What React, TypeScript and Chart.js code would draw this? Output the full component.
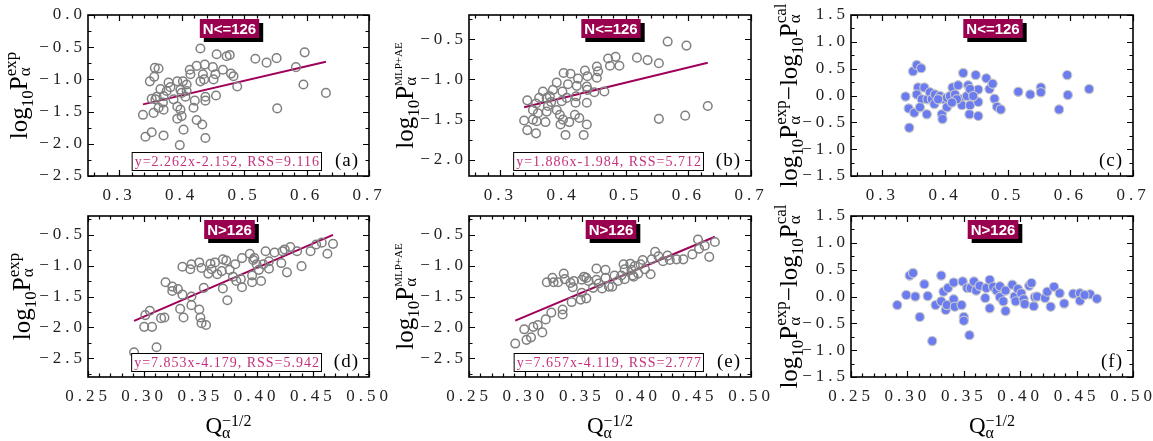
import React, { useEffect, useRef } from "react";
import { Chart, registerables } from "chart.js";
Chart.register(...registerables);

// ---------------- DATA ----------------
// (a) N<=126 : experimental
const aX = [0.430,0.456,0.472,0.477,0.518,0.536,0.552,0.597,0.583,0.595,0.631,0.553,0.489,0.483,0.479,0.466,0.454,0.451,0.455,0.437,0.424,0.450,0.434,0.436,0.430,0.414,0.413,0.438,0.438,0.421,0.419,0.424,0.433,0.438,0.403,0.397,0.400,0.393,0.406,0.408,0.408,0.402,0.393,0.398,0.400,0.393,0.398,0.387,0.382,0.379,0.376,0.371,0.370,0.366,0.360,0.358,0.363,0.371,0.357,0.363,0.356,0.349,0.355,0.338,0.342,0.352,0.371,0.352];
const aY = [-0.52,-0.61,-0.64,-0.62,-0.68,-0.74,-0.67,-0.58,-0.81,-1.08,-1.21,-1.45,-1.11,-0.95,-0.91,-0.85,-0.92,-1.00,-1.25,-0.77,-0.79,-0.81,-0.92,-1.00,-1.03,-0.92,-0.85,-1.27,-1.33,-1.33,-1.44,-1.63,-1.70,-1.91,-1.78,-2.02,-1.57,-1.61,-1.27,-1.18,-1.08,-1.03,-1.03,-1.16,-1.21,-1.42,-1.47,-1.31,-1.12,-1.05,-1.18,-1.26,-1.36,-1.15,-1.27,-1.31,-1.44,-1.47,-0.82,-0.83,-0.96,-1.03,-1.52,-1.55,-1.89,-1.82,-1.87,-1.30];
// (b) N<=126 : MLP+AE
const bX = [0.567,0.597,0.518,0.535,0.553,0.472,0.484,0.475,0.490,0.454,0.456,0.435,0.439,0.454,0.438,0.439,0.450,0.466,0.438,0.438,0.433,0.426,0.419,0.420,0.421,0.422,0.424,0.412,0.401,0.408,0.406,0.399,0.390,0.398,0.395,0.400,0.396,0.404,0.410,0.384,0.379,0.381,0.376,0.374,0.390,0.368,0.362,0.357,0.352,0.360,0.343,0.358,0.352,0.338,0.343,0.357,0.372,0.553,0.595,0.631,0.374];
const bY = [-0.53,-0.58,-0.73,-0.76,-0.80,-0.74,-0.72,-0.83,-0.83,-0.84,-0.90,-0.89,-0.96,-0.98,-1.09,-1.13,-1.16,-1.15,-1.29,-1.56,-1.69,-1.48,-1.44,-1.29,-1.21,-1.08,-0.99,-0.93,-0.92,-1.06,-1.23,-1.15,-1.04,-1.27,-1.44,-1.50,-1.56,-1.69,-1.53,-1.13,-1.21,-1.28,-1.33,-1.40,-1.38,-1.15,-1.23,-1.30,-1.38,-1.42,-1.26,-1.52,-1.50,-1.51,-1.63,-1.67,-1.53,-1.49,-1.45,-1.33,-1.23];
// (c) N<=126 : residuals
const cX = [0.337,0.342,0.343,0.351,0.349,0.355,0.362,0.357,0.355,0.363,0.360,0.367,0.371,0.372,0.376,0.379,0.383,0.384,0.392,0.395,0.396,0.398,0.403,0.403,0.408,0.412,0.421,0.424,0.429,0.427,0.435,0.437,0.439,0.440,0.449,0.453,0.453,0.453,0.466,0.471,0.476,0.479,0.483,0.489,0.517,0.536,0.553,0.553,0.582,0.595,0.596,0.630,0.416,0.389,0.419,0.411,0.440,0.445];
const cY = [-0.02,-0.24,-0.60,-0.32,0.45,0.57,0.51,0.15,0.02,-0.07,-0.22,0.15,-0.35,-0.07,0.06,-0.07,-0.16,0.02,-0.01,-0.35,-0.44,-0.07,-0.04,-0.22,-0.01,0.15,0.19,-0.07,0.42,-0.18,-0.01,0.19,-0.35,-0.18,0.38,0.11,-0.12,-0.38,0.32,0.12,0.22,-0.06,-0.21,-0.26,0.07,0.02,0.15,0.06,-0.26,0.38,0.01,0.12,0.02,-0.07,-0.07,-0.13,0.12,-0.01];
// (d) N>126 : experimental
const dX = [0.291,0.300,0.301,0.305,0.307,0.311,0.315,0.318,0.319,0.325,0.325,0.330,0.334,0.332,0.335,0.334,0.341,0.342,0.342,0.342,0.349,0.351,0.349,0.350,0.351,0.355,0.353,0.357,0.359,0.360,0.363,0.365,0.369,0.370,0.370,0.373,0.374,0.376,0.379,0.381,0.382,0.387,0.386,0.387,0.394,0.396,0.396,0.398,0.400,0.402,0.404,0.406,0.408,0.411,0.411,0.416,0.422,0.423,0.427,0.430,0.436,0.440,0.448,0.453,0.458,0.463,0.468,0.425,0.397];
const dY = [-2.40,-1.99,-1.80,-1.73,-1.99,-2.32,-1.85,-1.84,-1.27,-1.34,-1.41,-1.38,-1.02,-1.70,-1.84,-1.47,-1.06,-0.98,-1.64,-1.50,-0.95,-1.04,-1.71,-1.84,-1.93,-1.96,-1.36,-1.13,-0.97,-1.06,-0.95,-1.14,-1.09,-1.37,-0.90,-0.92,-1.56,-1.07,-1.18,-0.98,-1.25,-0.88,-1.22,-1.35,-0.81,-1.16,-1.27,-0.88,-0.98,-1.07,-1.25,-0.98,-0.77,-0.93,-1.05,-0.79,-0.96,-0.77,-1.11,-0.70,-0.77,-1.01,-0.77,-0.66,-0.63,-0.81,-0.65,-0.74,-0.91];
// (e) N>126 : MLP+AE
const eX = [0.291,0.299,0.301,0.305,0.307,0.311,0.315,0.318,0.319,0.323,0.324,0.325,0.329,0.333,0.333,0.334,0.335,0.340,0.342,0.341,0.343,0.349,0.350,0.350,0.352,0.354,0.356,0.360,0.363,0.363,0.365,0.368,0.371,0.371,0.374,0.377,0.379,0.382,0.385,0.387,0.388,0.393,0.394,0.396,0.397,0.400,0.402,0.404,0.406,0.411,0.412,0.415,0.418,0.422,0.426,0.428,0.434,0.440,0.448,0.453,0.454,0.459,0.463,0.468,0.354,0.388,0.395];
const eY = [-2.26,-2.03,-2.20,-2.16,-1.99,-1.96,-2.08,-1.87,-1.27,-1.76,-1.20,-1.27,-1.27,-1.79,-1.71,-1.13,-1.22,-1.28,-1.35,-1.59,-1.25,-1.55,-1.44,-1.23,-1.18,-1.53,-1.25,-1.36,-1.05,-1.23,-1.29,-1.37,-1.07,-1.20,-1.34,-1.34,-1.16,-1.25,-1.16,-0.98,-1.06,-0.97,-1.07,-1.18,-1.01,-1.13,-0.98,-0.91,-1.06,-1.14,-0.90,-0.78,-0.85,-0.93,-0.84,-0.91,-0.90,-0.90,-0.82,-0.58,-0.73,-0.68,-0.86,-0.62,-1.20,-1.22,-1.16];
// (f) N>126 : residuals
const fX = [0.291,0.299,0.302,0.305,0.307,0.311,0.315,0.318,0.322,0.325,0.330,0.330,0.332,0.334,0.335,0.336,0.341,0.342,0.341,0.348,0.349,0.350,0.350,0.355,0.353,0.356,0.359,0.361,0.364,0.369,0.370,0.373,0.373,0.376,0.379,0.382,0.382,0.385,0.387,0.387,0.393,0.395,0.396,0.398,0.401,0.403,0.404,0.408,0.410,0.412,0.413,0.415,0.422,0.424,0.427,0.430,0.435,0.439,0.447,0.453,0.453,0.462,0.468,0.457];
const fY = [-0.16,0.03,0.39,0.44,0.00,-0.38,0.23,0.01,-0.83,-0.16,0.39,-0.09,0.09,-0.25,-0.16,0.16,-0.05,-0.19,0.26,-0.16,0.28,-0.38,-0.45,-0.72,0.16,0.16,0.28,0.11,0.20,-0.03,0.16,0.31,-0.22,0.18,0.11,-0.01,0.19,-0.09,0.11,-0.27,0.22,0.00,-0.09,0.14,0.06,-0.05,-0.14,0.20,0.25,-0.18,-0.01,0.00,-0.03,0.09,-0.19,0.18,0.06,-0.13,0.05,0.06,-0.08,0.04,-0.04,0.03];

// linear fits: [slope, intercept, RSS], x-extent
const fitA = [2.262, -2.152, 9.116];
const fitB = [1.886, -1.984, 5.712];
const fitD = [7.853, -4.179, 5.942];
const fitE = [7.657, -4.119, 2.777];
const fitTopRange = [0.338, 0.631];
const fitBotRange = [0.291, 0.468];

// tick labels
const topXTicks = [0.3, 0.4, 0.5, 0.6, 0.7];
const botXTicks = [0.25, 0.30, 0.35, 0.40, 0.45, 0.50];
const yTicksA = [0.0, -0.5, -1.0, -1.5, -2.0, -2.5];
const yTicksB = [-0.5, -1.0, -1.5, -2.0];
const yTicksLow = [-0.5, -1.0, -1.5, -2.0, -2.5];
const yTicksRes = [1.5, 1.0, 0.5, 0.0, -0.5, -1.0, -1.5];

const badgeTop = "N<=126";
const badgeBot = "N>126";

// ---------------- STYLE ----------------
const SERIF = '"Liberation Serif", "Times New Roman", serif';
const LINE_COLOR = "#a0005a";
const BADGE_COLOR = "#990050";
const EQ_COLOR = "#c4307e";
const OPEN_EDGE = "#7f7f7f";
const BLUE = "#6a7cf0";
const BLUE_EDGE = "#c8c8c8";

type Run = { t?: string; s?: "sub"; sup?: string; sub?: string };
const expTitle: Run[] = [{ t: "log" }, { t: "10", s: "sub" }, { t: "P" }, { sup: "exp", sub: "α" }];
const mlpTitle: Run[] = [{ t: "log" }, { t: "10", s: "sub" }, { t: "P" }, { sup: "MLP+AE", sub: "α" }];
const resTitle: Run[] = [
  { t: "log" }, { t: "10", s: "sub" }, { t: "P" }, { sup: "exp", sub: "α" }, { t: "−" },
  { t: "log" }, { t: "10", s: "sub" }, { t: "P" }, { sup: "cal", sub: "α" },
];
const xTitle: Run[] = [{ t: "Q" }, { sup: "−1/2", sub: "α" }];

function drawRich(ctx: any, runs: Run[], size: number, small: number, supSmall: number, cx: number, cy: number, rotated: boolean, supShift: number, subShift: number, stackSub: number) {
  ctx.save();
  ctx.translate(cx, cy);
  if (rotated) ctx.rotate(-Math.PI / 2);
  ctx.letterSpacing = "0px";
  const big = `${size}px ${SERIF}`;
  const sm = `${small}px ${SERIF}`;
  const ssm = `${supSmall}px ${SERIF}`;
  const widths = runs.map((r) => {
    if (r.sup !== undefined) {
      ctx.font = ssm;
      const w1 = ctx.measureText(r.sup).width;
      ctx.font = sm;
      const w2 = ctx.measureText(r.sub).width;
      return Math.max(w1, w2);
    }
    ctx.font = r.s ? sm : big;
    return ctx.measureText(r.t).width;
  });
  const total = widths.reduce((p, q) => p + q, 0);
  let x = -total / 2;
  ctx.fillStyle = "#000";
  ctx.textAlign = "left";
  ctx.textBaseline = "alphabetic";
  runs.forEach((r, i) => {
    if (r.sup !== undefined) {
      ctx.font = ssm;
      ctx.fillText(r.sup, x, supShift);
      ctx.font = sm;
      ctx.fillText(r.sub, x, stackSub);
    } else if (r.s === "sub") {
      ctx.font = sm;
      ctx.fillText(r.t, x, subShift);
    } else {
      ctx.font = big;
      ctx.fillText(r.t, x, 0);
    }
    x += widths[i];
  });
  ctx.restore();
}

function minorVals(min: number, max: number, step: number) {
  const out: number[] = [];
  const k0 = Math.ceil(min / step - 1e-6);
  const k1 = Math.floor(max / step + 1e-6);
  for (let k = k0; k <= k1; k++) out.push(+(k * step).toFixed(6));
  return out;
}

const fmtY = (v: number) => (v < 0 ? "−" + Math.abs(v).toFixed(1) : v.toFixed(1));

type PanelCfg = {
  xs: number[]; ys: number[]; fit?: number[]; fitRange: number[];
  filled: boolean; xMin: number; xMax: number; yMin: number; yMax: number;
  xTicks: number[]; yTicks: number[]; xDec: number; xMinor: number; xMajor: number; yMinor: number;
  badge: string; tag: string; title: Run[]; supSmall: number; showX: boolean;
  PL: number; PR: number; PT: number; PB: number; top: number; h: number; titleOff: number;
};

const COLS = [{ PL: 88, PR: 369 }, { PL: 469, PR: 751 }, { PL: 851, PR: 1133 }];
const ROWS = [{ PT: 15, PB: 176, top: 0, h: 200 }, { PT: 216, PB: 377, top: 200, h: 241 }];

const topCommon = { xMin: 0.25, xMax: 0.7, xTicks: topXTicks, xDec: 1, xMinor: 0.02, xMajor: 0.1, yMinor: 0.25, badge: badgeTop, fitRange: fitTopRange, showX: false, ...ROWS[0] };
const botCommon = { xMin: 0.25, xMax: 0.5, xTicks: botXTicks, xDec: 2, xMinor: 0.01, xMajor: 0.05, yMinor: 0.25, badge: badgeBot, fitRange: fitBotRange, showX: true, ...ROWS[1] };

const PANELS: PanelCfg[] = [
  { ...topCommon, ...COLS[0], xs: aX, ys: aY, fit: fitA, filled: false, yMin: -2.5, yMax: 0, yTicks: yTicksA, tag: "(a)", title: expTitle, supSmall: 17, titleOff: 61 },
  { ...topCommon, ...COLS[1], xs: bX, ys: bY, fit: fitB, filled: false, yMin: -2.2, yMax: -0.2, yTicks: yTicksB, tag: "(b)", title: mlpTitle, supSmall: 11, titleOff: 56 },
  { ...topCommon, ...COLS[2], xs: cX, ys: cY, filled: true, yMin: -1.5, yMax: 1.5, yTicks: yTicksRes, tag: "(c)", title: resTitle, supSmall: 17, titleOff: 54 },
  { ...botCommon, ...COLS[0], xs: dX, ys: dY, fit: fitD, filled: false, yMin: -2.8, yMax: -0.2, yTicks: yTicksLow, tag: "(d)", title: expTitle, supSmall: 17, titleOff: 58 },
  { ...botCommon, ...COLS[1], xs: eX, ys: eY, fit: fitE, filled: false, yMin: -2.8, yMax: -0.2, yTicks: yTicksLow, tag: "(e)", title: mlpTitle, supSmall: 11, titleOff: 56 },
  { ...botCommon, ...COLS[2], xs: fX, ys: fY, filled: true, yMin: -1.5, yMax: 1.5, yTicks: yTicksRes, tag: "(f)", title: resTitle, supSmall: 17, titleOff: 54 },
];

function Panel({ cfg }: { cfg: PanelCfg }) {
  const ref = useRef<HTMLCanvasElement>(null);
  const AXW = 88;
  const RPAD = 30;
  const left = cfg.PL - AXW;
  const width = cfg.PR - cfg.PL + AXW + RPAD;

  useEffect(() => {
    const pts = cfg.xs.map((x, i) => ({ x, y: cfg.ys[i] }));
    const datasets: any[] = [
      {
        type: "scatter",
        data: pts,
        pointRadius: cfg.filled ? 4.6 : 4.3,
        pointBorderWidth: cfg.filled ? 1.2 : 1.5,
        pointBorderColor: cfg.filled ? BLUE_EDGE : OPEN_EDGE,
        pointBackgroundColor: cfg.filled ? BLUE : "rgba(0,0,0,0)",
        pointHoverRadius: 4,
      },
    ];
    if (cfg.fit) {
      const [m, b] = cfg.fit;
      datasets.push({
        type: "line",
        data: cfg.fitRange.map((x) => ({ x, y: m * x + b })),
        borderColor: LINE_COLOR,
        borderWidth: 2,
        pointRadius: 0,
        showLine: true,
        fill: false,
      });
    }

    const decor = {
      id: "decor",
      beforeDraw(chart: any) {
        chart.ctx.letterSpacing = "4px";
      },
      afterDatasetsDraw(chart: any) {
        const ctx = chart.ctx;
        const { left: L, right: R, top: T, bottom: B } = chart.chartArea;
        const sx = chart.scales.x;
        const sy = chart.scales.y;
        ctx.save();
        ctx.letterSpacing = "0px";
        // ticks (inward, mirrored)
        ctx.strokeStyle = "#000";
        ctx.lineWidth = 1.2;
        ctx.beginPath();
        minorVals(cfg.xMin, cfg.xMax, cfg.xMinor).forEach((v) => {
          const isMaj = Math.abs(v / cfg.xMajor - Math.round(v / cfg.xMajor)) < 1e-4;
          const len = isMaj ? 6 : 3.5;
          const px = Math.round(sx.getPixelForValue(v)) + 0.5;
          ctx.moveTo(px, B); ctx.lineTo(px, B - len);
          ctx.moveTo(px, T); ctx.lineTo(px, T + len);
        });
        minorVals(cfg.yMin, cfg.yMax, cfg.yMinor).forEach((v) => {
          const isMaj = Math.abs(v / 0.5 - Math.round(v / 0.5)) < 1e-4;
          const len = isMaj ? 6 : 3.5;
          const py = Math.round(sy.getPixelForValue(v)) + 0.5;
          ctx.moveTo(L, py); ctx.lineTo(L + len, py);
          ctx.moveTo(R, py); ctx.lineTo(R - len, py);
        });
        ctx.stroke();
        // frame
        ctx.lineWidth = 1.6;
        ctx.strokeRect(L, T, R - L, B - T);

        // equation box
        if (cfg.fit) {
          const [m, b, rss] = cfg.fit;
          const txt = `y=${m.toFixed(3)}x-${Math.abs(b).toFixed(3)}, RSS=${rss.toFixed(3)}`;
          ctx.font = `14px ${SERIF}`;
          ctx.letterSpacing = "1px";
          const tw = ctx.measureText(txt).width;
          const bw = tw + 5;
          const bh = 19;
          const bx = R - 47 - bw;
          const by = B - 5 - bh;
          ctx.fillStyle = "#fff";
          ctx.fillRect(bx, by, bw, bh);
          ctx.lineWidth = 1;
          ctx.strokeStyle = "#000";
          ctx.strokeRect(bx + 0.5, by + 0.5, bw - 1, bh - 1);
          ctx.fillStyle = EQ_COLOR;
          ctx.textAlign = "left";
          ctx.textBaseline = "middle";
          ctx.fillText(txt, bx + 3, by + bh / 2 + 1);
        }
        // panel tag
        ctx.letterSpacing = "1px";
        ctx.font = `19px ${SERIF}`;
        ctx.fillStyle = "#000";
        ctx.textAlign = "right";
        ctx.textBaseline = "middle";
        ctx.fillText(cfg.tag, R - 10, B - 15);

        // badge
        ctx.letterSpacing = "0px";
        ctx.font = `bold 15px "Liberation Sans", Arial, sans-serif`;
        const bwid = ctx.measureText(cfg.badge).width + 6;
        const bh2 = 19;
        const bcx = (L + R) / 2 + 1;
        const btop = T + 4;
        ctx.fillStyle = "#000";
        ctx.fillRect(bcx - bwid / 2 + 4, btop + 4, bwid, bh2);
        ctx.fillStyle = BADGE_COLOR;
        ctx.fillRect(bcx - bwid / 2, btop, bwid, bh2);
        ctx.fillStyle = "#fff";
        ctx.textAlign = "center";
        ctx.textBaseline = "middle";
        ctx.fillText(cfg.badge, bcx, btop + bh2 / 2 + 1);

        // y title
        drawRich(ctx, cfg.title, 25, 17, cfg.supSmall, L - cfg.titleOff, (T + B) / 2, true, -11, 6, 3);
        // x title
        if (cfg.showX) {
          drawRich(ctx, xTitle, 23, 16, 16, (L + R) / 2, B + 56, false, -7, 5, 5);
        }
        ctx.restore();
      },
      afterDraw(chart: any) {
        chart.ctx.letterSpacing = "0px";
      },
    };

    const chart = new Chart(ref.current as HTMLCanvasElement, {
      type: "scatter",
      data: { datasets },
      options: {
        responsive: false,
        animation: false,
        events: [],
        layout: { padding: { left: 0, right: RPAD, top: cfg.PT - cfg.top, bottom: 0 } },
        plugins: { legend: { display: false }, tooltip: { enabled: false } },
        scales: {
          x: {
            type: "linear",
            position: "bottom",
            min: cfg.xMin,
            max: cfg.xMax,
            afterBuildTicks: (s: any) => {
              s.ticks = cfg.xTicks.map((v) => ({ value: v }));
            },
            afterFit: (s: any) => {
              s.height = cfg.h - (cfg.PB - cfg.top);
            },
            ticks: {
              autoSkip: false,
              maxRotation: 0,
              padding: 9,
              color: "#222",
              font: { family: SERIF, size: 17 },
              callback: (v: any) => Number(v).toFixed(cfg.xDec),
            },
            grid: { display: false, drawTicks: false },
            border: { display: false },
          },
          y: {
            type: "linear",
            min: cfg.yMin,
            max: cfg.yMax,
            afterBuildTicks: (s: any) => {
              s.ticks = cfg.yTicks.map((v) => ({ value: v }));
            },
            afterFit: (s: any) => {
              s.width = AXW;
            },
            ticks: {
              autoSkip: false,
              padding: 2,
              color: "#222",
              font: { family: SERIF, size: 17 },
              callback: (v: any) => fmtY(Number(v)),
            },
            grid: { display: false, drawTicks: false },
            border: { display: false },
          },
        },
      },
      plugins: [decor],
    } as any);
    return () => chart.destroy();
  }, []);

  return (
    <canvas
      ref={ref}
      width={width}
      height={cfg.h}
      style={{ position: "absolute", left, top: cfg.top, width, height: cfg.h }}
    />
  );
}

export default function App() {
  return (
    <div style={{ position: "absolute", left: 0, top: 0, width: 1153, height: 441, overflow: "hidden", background: "#fff" }}>
      {PANELS.map((p, i) => (
        <Panel key={i} cfg={p} />
      ))}
    </div>
  );
}
